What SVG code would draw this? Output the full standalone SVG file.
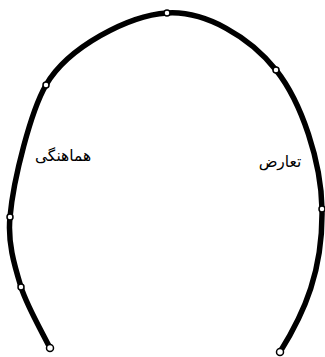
<svg xmlns="http://www.w3.org/2000/svg" width="325" height="357" viewBox="0 0 325 357">
<style>
.arc{fill:none;stroke:#000;stroke-width:5.5;stroke-linecap:round}
.pt{fill:#fff;stroke:#000;stroke-width:1.5}
.lbl{font-family:"DejaVu Serif","DejaVu Sans",serif;font-size:15.5px;fill:#000;text-anchor:middle;direction:rtl}
</style>
<rect width="325" height="357" fill="#fff"/>
<g id="connectors">
<path class="arc" d="M50,348 C41,330 27,306 21,287 C14,264 7.5,242 10,217 C13.5,178 31,111 46,85 C68,47 128.7,15.5 167,13 C205.3,10.5 250.2,37.3 276,70 C301.8,102.7 321.3,162 322,209 C323,270 305,312 280,352"/>
</g>
<g id="points">
<circle class="pt" cx="167" cy="13" r="3"/>
<circle class="pt" cx="46" cy="85" r="3"/>
<circle class="pt" cx="276" cy="70" r="3"/>
<circle class="pt" cx="10" cy="217" r="3"/>
<circle class="pt" cx="322" cy="209" r="3"/>
<circle class="pt" cx="21" cy="287" r="3"/>
<circle class="pt" cx="50" cy="348" r="3.5"/>
<circle class="pt" cx="280" cy="352" r="3.5"/>
</g>
<g id="label-harmony"><text class="lbl" x="63" y="161">هماهنگی</text></g>
<g id="label-conflict"><text class="lbl" x="280" y="167">تعارض</text></g>
</svg>
